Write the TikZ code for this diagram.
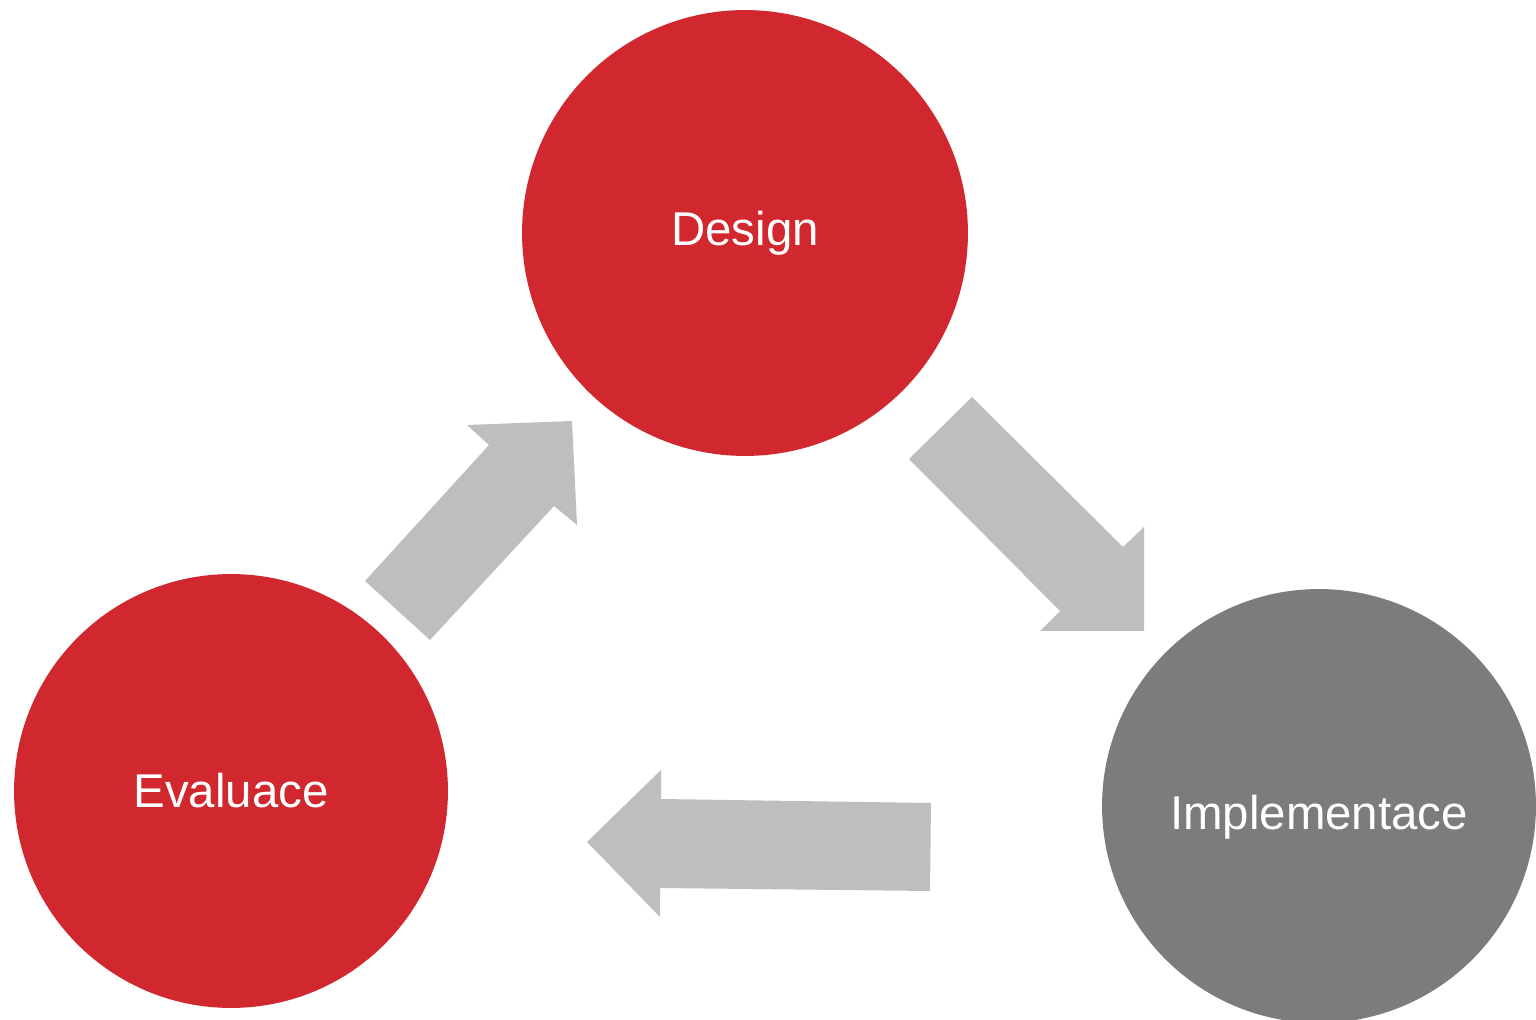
\documentclass[tikz,border=0pt]{standalone}
\usepackage{fontspec}
\setmainfont{Liberation Sans}
\usetikzlibrary{shapes.geometric}
\definecolor{phasered}{RGB}{208,40,46}
\definecolor{phasegray}{RGB}{124,124,124}
\definecolor{arrowgray}{RGB}{190,190,190}
\tikzstyle{phasetext} = [inner sep=0pt, text=white, font=\fontsize{27}{32}\selectfont, text centered]
\tikzstyle{phase} = [phasetext, circle]
\tikzstyle{redphase} = [phase, fill=phasered, minimum size=8.92cm]
\tikzstyle{grayphase} = [phase, fill=phasegray, minimum size=8.68cm]
\tikzstyle{blockarrow} = [fill=arrowgray, draw=none]

\begin{document}
\begin{tikzpicture}[x=0.02cm, y=-0.02cm]
    \useasboundingbox (0,0) rectangle (1536,1020);

    % Nodes
    \node (design) [redphase] at (745,233) {Design};
    \node (evaluace) [redphase, minimum size=8.68cm] at (231,791) {Evaluace};
    \node (implementace) [grayphase] at (1319,806) {};
    \node (implementacetext) [phasetext, yshift=-0.22cm] at (implementace) {Implementace};

    % Arrows
    % Design -> Implementace
    \fill [blockarrow] (909,459) -- (972,397) -- (1123,547) -- (1144,527)
        -- (1144,631) -- (1040,631) -- (1060,611) -- cycle;
    % Implementace -> Evaluace
    \fill [blockarrow] (931,803) -- (930,891) -- (660,888) -- (660,917)
        -- (587,842) -- (661,770) -- (661,799) -- cycle;
    % Evaluace -> Design
    \fill [blockarrow] (365,581) -- (430,640) -- (554,506) -- (577,525)
        -- (572,421) -- (467,425) -- (489,445) -- cycle;

\end{tikzpicture}
\end{document}
